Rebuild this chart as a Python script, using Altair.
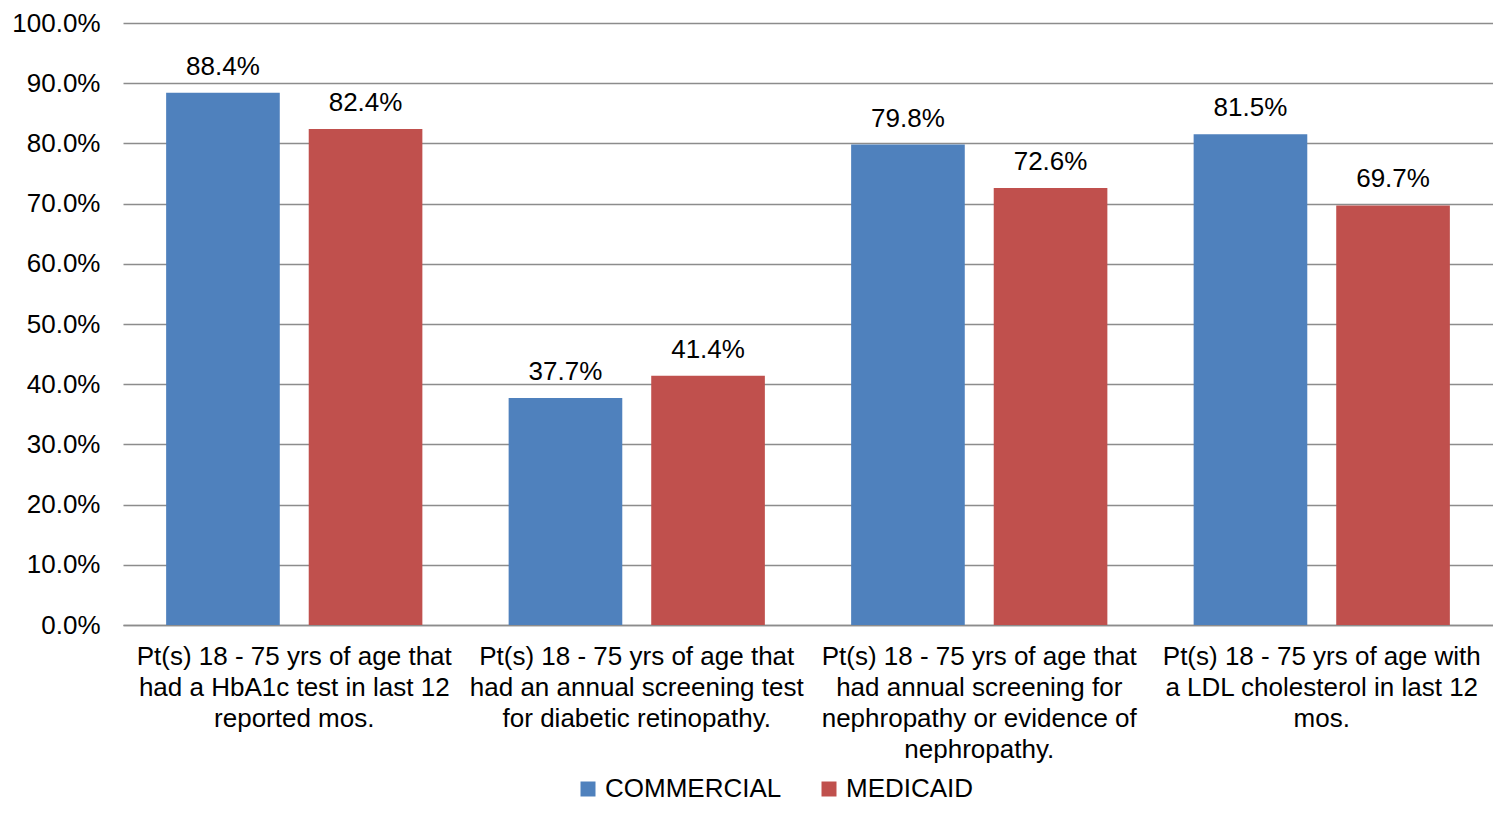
import altair as alt
import pandas as pd

categories = [
    "Pt(s) 18 - 75 yrs of age that had a HbA1c test in last 12 reported mos.",
    "Pt(s) 18 - 75 yrs of age that had an annual screening test for diabetic retinopathy.",
    "Pt(s) 18 - 75 yrs of age that had annual screening for nephropathy or evidence of nephropathy.",
    "Pt(s) 18 - 75 yrs of age with a LDL cholesterol in last 12 mos.",
]
label_lines = [
    ["Pt(s) 18 - 75 yrs of age that", "had a HbA1c test in last 12", "reported mos."],
    ["Pt(s) 18 - 75 yrs of age that", "had an annual screening test", "for diabetic retinopathy."],
    ["Pt(s) 18 - 75 yrs of age that", "had annual screening for", "nephropathy or evidence of", "nephropathy."],
    ["Pt(s) 18 - 75 yrs of age with", "a LDL cholesterol in last 12", "mos."],
]
series = ["COMMERCIAL", "MEDICAID"]
commercial = [0.884, 0.377, 0.798, 0.815]
medicaid = [0.824, 0.414, 0.726, 0.697]
colors = ["#4F81BD", "#C0504D"]
y_ticks = [0.0, 0.1, 0.2, 0.3, 0.4, 0.5, 0.6, 0.7, 0.8, 0.9, 1.0]

rows = []
for i, c in enumerate(categories):
    rows.append({"cat": c, "series": series[0], "value": commercial[i]})
    rows.append({"cat": c, "series": series[1], "value": medicaid[i]})
df = pd.DataFrame(rows)

# label expression mapping category text to wrapped lines
expr = "datum.label"
for c, lines in reversed(list(zip(categories, label_lines))):
    arr = "[" + ",".join("'" + l + "'" for l in lines) + "]"
    expr = f"datum.label == '{c}' ? {arr} : ({expr})"

FONT = "Liberation Sans"
FS = 26

x = alt.X("cat:N", sort=categories, title=None,
          scale=alt.Scale(paddingInner=0, paddingOuter=0),
          axis=alt.Axis(labelExpr=expr, labelAngle=0, labelFontSize=FS, labelFont=FONT,
                        labelColor="#000000", labelLineHeight=31, labelPadding=18,
                        labelLimit=400, ticks=False, domainColor="#8c8c8c", domainWidth=1.5,
                        labelBaseline="top", grid=False))
xoff = alt.XOffset("series:N", sort=series,
                   scale=alt.Scale(paddingInner=0.203, paddingOuter=0.3025))
y = alt.Y("value:Q", title=None,
          scale=alt.Scale(domain=[0, 1], nice=False),
          axis=alt.Axis(format=".1%", values=y_ticks, labelOverlap=False,
                        labelFontSize=FS, labelFont=FONT, labelColor="#000000",
                        labelPadding=23, ticks=False, domain=False, grid=True,
                        gridColor="#8c8c8c", gridWidth=1.5))

bars = alt.Chart(df).mark_bar().encode(
    x=x, xOffset=xoff, y=y,
    color=alt.Color("series:N", sort=series, title=None,
                    scale=alt.Scale(domain=series, range=colors),
                    legend=alt.Legend(orient="none", legendX=452, legendY=753,
                                      direction="horizontal", symbolType="square",
                                      symbolSize=225, symbolStrokeWidth=0,
                                      labelFontSize=FS, labelFont=FONT, labelColor="#000000",
                                      labelLimit=400,
                                      columnPadding=34, labelOffset=4)),
)

labels = alt.Chart(df).mark_text(fontSize=FS, font=FONT, color="#000000", dy=-18,
                                 baseline="alphabetic").encode(
    x=x, xOffset=xoff, y=y,
    text=alt.Text("value:Q", format=".1%"),
)

chart = (bars + labels).properties(
    width=1370, height=602,
    autosize=alt.AutoSizeParams(type="none"),
    padding={"left": 115, "top": 15, "right": 0, "bottom": 179},
).configure_view(stroke=None)

chart.save("out.html", embed_options={"renderer": "svg", "actions": False})
